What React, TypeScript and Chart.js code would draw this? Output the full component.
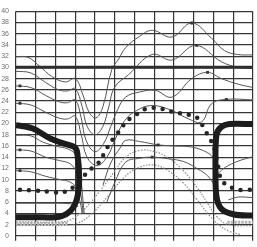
import { useEffect, useRef } from "react";
import { Chart, registerables } from "chart.js";

Chart.register(...registerables);

type P = [number, number];

// x: 0..24 (12 grid columns), y: 0..40
const xRange: P = [0, 24];
const yRange: P = [0, 40];

const level30: P[] = [[0, 30], [24, 30]];

const curveA: P[] = [
  [0, 31.9], [1.2, 31.8], [2.4, 30.2], [3.6, 28.4], [5, 27.4], [6, 28], [6.8, 25],
  [7.4, 22], [8.1, 21], [8.8, 23], [9.7, 29.6], [10.4, 31.5], [11.1, 33.5],
  [12.5, 35.5], [13.8, 36.6], [15.8, 35.4], [17.8, 37.9], [19.8, 35.2],
  [21.1, 33], [22.4, 32.3], [24, 32.2],
];
const curveB: P[] = [
  [0, 29.3], [1.5, 29], [3, 27.3], [4.3, 26], [5.2, 25.8], [6, 26.2], [6.7, 23],
  [7.2, 19.5], [8, 18], [8.8, 19.5], [9.4, 23], [10, 26.5], [11.4, 28.7],
  [13.8, 32.3], [15.8, 31.3], [18.2, 33.9], [20.8, 31], [22.5, 30], [24, 29.8],
];
const curveC: P[] = [
  [0, 26.7], [1.5, 26.4], [3, 25], [4.3, 23.9], [5.2, 23.7], [6, 24.2], [6.6, 21],
  [7.1, 17], [8, 15], [8.9, 16.5], [9.6, 19.5], [10.3, 22.5], [11.1, 24.7],
  [12.5, 25.6], [14.1, 25.9], [15.8, 24.7], [17.8, 28], [19.4, 29.1],
  [20.8, 28], [22.5, 27], [24, 26.4],
];
const curveD: P[] = [
  [0, 23.6], [1.5, 23.3], [3, 22], [4.3, 21], [5.2, 20.8], [6, 21.3], [6.6, 18],
  [7.2, 14], [8.2, 12.5], [9.2, 14], [10, 17], [11, 20.5], [12.2, 22.3],
  [13.8, 23.2], [15.8, 22.3], [17.5, 20.8], [18.8, 20.3], [19.8, 23.5],
  [21.3, 24.3], [24, 24.2],
];
const curveF: P[] = [
  [0, 17.9], [1.5, 17.8], [2.7, 16.7], [4.2, 15.9], [5.2, 15.5], [6, 14.5],
  [6.5, 11], [6.8, 6], [6.9, 4],
];
const curveG: P[] = [
  [0, 15.3], [1.5, 15.1], [3, 14], [4.4, 13.4], [5.5, 12.8], [6.2, 11],
  [6.6, 7], [6.8, 4],
];
const curveH: P[] = [
  [0, 11.6], [1.5, 11.4], [3, 10.6], [4.5, 10], [5.3, 9.7], [6, 8.8], [6.5, 6], [6.7, 4],
];
const curveI: P[] = [[0, 5.8], [3, 5.8], [5.5, 5.7], [6.3, 5.2]];

const arc1: P[] = [
  [8.8, 9], [9.6, 13], [10.6, 15.8], [11.1, 17], [12.5, 16.8], [14.4, 16.2],
  [16, 16], [17.8, 15.8], [19.4, 14.8], [20.2, 13.5],
];
const arc2: P[] = [
  [9.2, 6], [10, 9.5], [11.1, 13.1], [12.5, 13.8], [13.8, 14], [15.5, 13.7],
  [17, 13.2], [18.4, 11.9], [19.4, 10.7], [20.1, 9],
];
const rightR1: P[] = [[20.4, 11], [21.2, 12.2], [22.5, 13.3], [24, 14.1]];
const rightR2: P[] = [[21.5, 6.4], [22.5, 6.9], [24, 6.8]];

const dotArc1: P[] = [
  [0, 2.5], [4.5, 2.5], [5.5, 2.8], [6.8, 4.5], [8.5, 8], [10, 11.5], [11.1, 14],
  [12.5, 15.2], [14, 15], [15.5, 13.8], [17, 11.5], [18.5, 8.2], [19.5, 5.5],
  [20.3, 3.5], [21.5, 2], [24, 1.8],
];
const dotArc2: P[] = [
  [0, 1.9], [5, 1.9], [6.2, 2.2], [7.6, 3.8], [9.3, 7], [11, 10.5], [12.5, 12.2],
  [14, 12.6], [15.5, 11.5], [17, 9.3], [18.3, 6.5], [19.5, 3.8], [20.5, 2],
  [21.6, 0.8], [22.8, 0.2],
];
const bandLeft: P[] = [[0, 2.2], [5.3, 2.2]];
const bandRight: P[] = [[21.4, 2.4], [24, 2.4]];

const thickLeft: P[] = [
  [0, 19.7], [1.7, 19.1], [3.4, 17.4], [4.7, 16.5], [5.9, 15.8], [6.2, 14.8],
  [6.4, 10.2], [6.2, 6.8], [5.6, 4.6], [4.4, 3.4], [2, 3.3], [0, 3.3],
];
const thickRight: P[] = [
  [24, 19.9], [21.6, 19.9], [20.8, 19.4], [20.3, 18], [20.2, 12], [20.3, 7],
  [20.8, 4.8], [22.1, 3.8], [24, 3.6],
];

const bigDots: P[] = [
  [0.4, 8.2], [2.4, 8], [4.4, 7.7], [5.5, 8.2], [6.3, 9.7], [7.6, 11.9], [8.4, 13.1],
  [9.4, 16.2], [10.4, 18.5], [11.2, 20.4], [12.2, 21.6], [13, 22.5], [14, 22.8],
  [15, 22.5], [16, 22], [17.4, 21.6], [18.3, 21.1], [18.8, 19.9], [19.4, 18],
  [20, 16], [20.4, 13], [20.8, 9.9], [21.6, 8.8], [22.4, 8.2], [24, 8.2],
];

const markers: P[] = [
  [0.4, 26.7], [0.4, 23.6], [0.4, 15.3], [0.4, 11.6], [17.8, 37.9], [18.3, 33.9],
  [19.4, 29.1], [21.3, 24.3], [14.4, 16.2], [13.8, 14],
];

const toXY = (pts: P[]) => pts.map(([x, y]) => ({ x, y }));

export default function App() {
  const ref = useRef<HTMLCanvasElement>(null);

  useEffect(() => {
    if (!ref.current) return;
    const thin = (pts: P[], extra: any = {}) => ({
      data: toXY(pts),
      borderColor: "#555",
      borderWidth: 1,
      pointRadius: 0,
      tension: 0.4,
      fill: false,
      ...extra,
    });
    const chart = new Chart(ref.current, {
      type: "line",
      data: {
        datasets: [
          {
            data: toXY(markers),
            showLine: false,
            pointStyle: "rect",
            pointRadius: 2,
            backgroundColor: "#333",
            borderWidth: 0,
          } as any,
          thin(thickLeft, { borderColor: "#1c1c1c", borderWidth: 6, tension: 0.3 }),
          thin(thickRight, { borderColor: "#1c1c1c", borderWidth: 6, tension: 0.3 }),
          thin(bigDots, {
            borderColor: "#262626",
            borderWidth: 4.5,
            borderDash: [0, 9],
            borderCapStyle: "round",
            tension: 0.3,
          }),
          thin(level30, { borderColor: "#2e2e2e", borderWidth: 3, tension: 0 }),
          thin(curveA),
          thin(curveB),
          thin(curveC),
          thin(curveD),
          thin(curveF),
          thin(curveG),
          thin(curveH),
          thin(curveI),
          thin(arc1),
          thin(arc2),
          thin(rightR1),
          thin(rightR2),
          thin(dotArc1, { borderColor: "#8a8a8a", borderDash: [1.5, 1.5], borderWidth: 1.2 }),
          thin(dotArc2, { borderColor: "#8a8a8a", borderDash: [1.5, 1.5], borderWidth: 1.2 }),
          thin(bandLeft, { borderColor: "#b4b4b4", borderDash: [2.5, 1], borderWidth: 3, tension: 0 }),
          thin(bandRight, { borderColor: "#b4b4b4", borderDash: [2.5, 1], borderWidth: 3, tension: 0 }),
        ],
      },
      options: {
        responsive: false,
        animation: false,
        events: [],
        plugins: { legend: { display: false }, tooltip: { enabled: false } },
        layout: { padding: { top: 7, right: 1, bottom: 0, left: 0 } },
        scales: {
          x: {
            type: "linear",
            min: xRange[0],
            max: xRange[1],
            ticks: { display: false, stepSize: 2 },
            grid: { color: "#363636", lineWidth: 1.2, drawTicks: true, tickLength: 5 },
            border: { display: false },
            afterFit: (s: any) => {
              s.height = 5;
            },
          },
          y: {
            min: yRange[0],
            max: yRange[1],
            ticks: {
              stepSize: 2,
              color: "#707070",
              padding: 7,
              font: { size: 7, family: "'Liberation Sans Narrow', 'Liberation Sans', sans-serif" },
            },
            grid: { color: "#363636", lineWidth: 1.2, drawTicks: false },
            border: { display: false },
            afterFit: (s: any) => {
              s.width = 16;
            },
          },
        },
      },
    });
    return () => chart.destroy();
  }, []);

  return (
    <div style={{ position: "absolute", left: 0, top: 0, width: 257, height: 247, background: "#fff" }}>
      <canvas ref={ref} width={257} height={247} style={{ display: "block" }} />
    </div>
  );
}
